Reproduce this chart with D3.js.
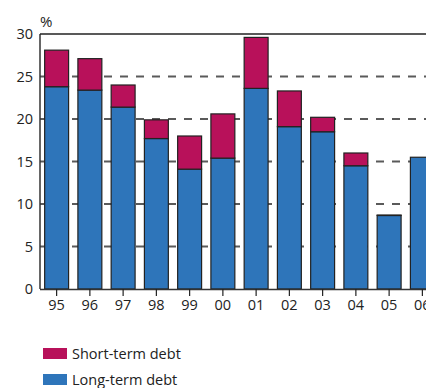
<!DOCTYPE html>
<html>
<head>
<meta charset="utf-8">
<script src="https://cdn.jsdelivr.net/npm/d3@7"></script>
<style>
  html, body { margin: 0; padding: 0; background: #fff; overflow: hidden; }
  svg { display: block; }
  text { font-family: "Open Sans", "Noto Sans", sans-serif; fill: #222; }
</style>
</head>
<body>
<svg id="chart" width="426" height="388"></svg>
<script>
// Debt stacked by maturity, per year
const years = ["95", "96", "97", "98", "99", "00", "01", "02", "03", "04", "05", "06"];
const longTerm = [23.8, 23.4, 21.4, 17.7, 14.1, 15.4, 23.6, 19.1, 18.5, 14.5, 8.65, 15.5];
const shortTerm = [4.3, 3.7, 2.6, 2.2, 3.9, 5.2, 6.0, 4.2, 1.7, 1.5, 0.05, 0.0];
const yTicks = [0, 5, 10, 15, 20, 25, 30];
const gridTicks = [5, 10, 15, 20, 25];
const seriesNames = ["Short-term debt", "Long-term debt"];
const seriesColors = ["#b8115a", "#2e75ba"];

const svg = d3.select("#chart");
const plotLeft = 40, plotTop = 34, plotBottom = 289;
const step = 33.25;

const x = d3.scaleBand()
  .domain(years)
  .range([plotLeft, plotLeft + step * years.length])
  .paddingInner(0.28)
  .paddingOuter(0.14);

const y = d3.scaleLinear().domain([0, 30]).range([plotBottom, plotTop]);

// dashed horizontal gridlines
svg.append("g")
  .selectAll("line")
  .data(gridTicks)
  .join("line")
  .attr("x1", plotLeft).attr("x2", 426)
  .attr("y1", d => y(d)).attr("y2", d => y(d))
  .attr("stroke", "#5a5a5a")
  .attr("stroke-width", 1.8)
  .attr("stroke-dasharray", "8,8");

// stacked bars
const rows = years.map((yr, i) => ({ year: yr, long: longTerm[i], short: shortTerm[i] }));
const stack = d3.stack().keys(["long", "short"])(rows);
const colorByKey = { long: seriesColors[1], short: seriesColors[0] };

svg.append("g")
  .selectAll("g")
  .data(stack)
  .join("g")
  .attr("fill", d => colorByKey[d.key])
  .selectAll("rect")
  .data(d => d.filter(p => p[1] - p[0] > 0))
  .join("rect")
  .attr("x", d => x(d.data.year))
  .attr("width", x.bandwidth())
  .attr("y", d => y(d[1]))
  .attr("height", d => y(d[0]) - y(d[1]))
  .attr("stroke", "#222")
  .attr("stroke-width", 1.2);

// frame: left axis, top border
svg.append("line").attr("x1", plotLeft).attr("x2", plotLeft).attr("y1", plotTop).attr("y2", plotBottom)
  .attr("stroke", "#333").attr("stroke-width", 1.5);
svg.append("line").attr("x1", plotLeft).attr("x2", 426).attr("y1", plotTop).attr("y2", plotTop)
  .attr("stroke", "#222").attr("stroke-width", 1.5);

// y axis labels
const yAxis = d3.axisLeft(y).tickValues(yTicks).tickSize(0).tickPadding(7);
const gy = svg.append("g").attr("transform", `translate(${plotLeft},0)`).call(yAxis);
gy.select(".domain").remove();
gy.selectAll("text")
  .style("font-family", '"Open Sans", "Noto Sans", sans-serif')
  .style("font-size", "14.5px")
  .attr("fill", "#222");

// x axis
const xAxis = d3.axisBottom(x).tickSize(7).tickPadding(4);
const gx = svg.append("g").attr("transform", `translate(0,${plotBottom})`).call(xAxis);
gx.select(".domain").attr("d", `M${plotLeft},0.5H426`).attr("stroke", "#333").attr("stroke-width", 1.5);
gx.selectAll(".tick line").attr("stroke", "#222").attr("stroke-width", 1.2);
gx.selectAll("text")
  .style("font-family", '"Open Sans", "Noto Sans", sans-serif')
  .style("font-size", "14.5px")
  .attr("fill", "#222");

// unit label
svg.append("text").attr("x", 40).attr("y", 27)
  .style("font-size", "15px").text("%");

// legend
const legend = svg.append("g")
  .selectAll("g")
  .data(seriesNames)
  .join("g")
  .attr("transform", (d, i) => `translate(43,${348 + i * 26})`);
legend.append("rect")
  .attr("width", 24).attr("height", 11)
  .attr("fill", (d, i) => seriesColors[i]);
legend.append("text")
  .attr("x", 29).attr("y", 11)
  .style("font-size", "14.5px")
  .text(d => d);
</script>
</body>
</html>
